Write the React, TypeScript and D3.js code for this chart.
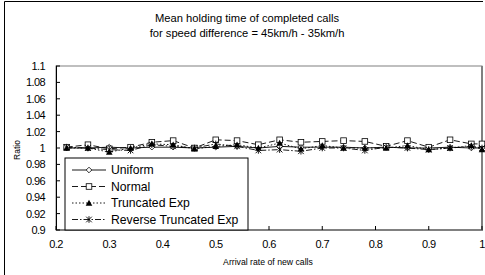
import React from "react";
import * as d3 from "d3";

const xValues = [0.22, 0.26, 0.3, 0.34, 0.38, 0.42, 0.46, 0.5, 0.54, 0.58, 0.62, 0.66, 0.7, 0.74, 0.78, 0.82, 0.86, 0.9, 0.94, 0.98, 1.0];
const uniform = [1.0, 1.0, 1.001, 1.0, 1.001, 1.001, 1.0, 1.001, 1.002, 1.0, 1.002, 1.001, 1.001, 1.001, 1.0, 1.001, 1.0, 1.0, 1.001, 1.0, 1.0];
const normal = [1.001, 1.004, 0.999, 1.001, 1.007, 1.009, 1.0, 1.01, 1.009, 1.004, 1.01, 1.007, 1.008, 1.009, 1.008, 1.002, 1.009, 1.001, 1.01, 1.005, 1.005];
const truncExp = [1.0, 1.0, 0.995, 1.0, 1.005, 1.004, 0.999, 1.002, 1.004, 1.0, 1.006, 0.999, 1.003, 1.0, 1.0, 1.0, 1.003, 0.998, 1.0, 1.003, 0.998];
const reverseExp = [1.001, 1.0, 0.998, 0.997, 1.004, 1.002, 1.0, 1.005, 1.002, 0.997, 0.998, 0.996, 1.0, 1.0, 0.997, 1.001, 1.0, 0.998, 1.0, 1.002, 1.0];
const yTicks = [0.9, 0.92, 0.94, 0.96, 0.98, 1, 1.02, 1.04, 1.06, 1.08, 1.1];
const xTicks = [0.2, 0.3, 0.4, 0.5, 0.6, 0.7, 0.8, 0.9, 1];
const seriesNames = ["Uniform", "Normal", "Truncated Exp", "Reverse Truncated Exp"];
const titleLines = ["Mean holding time of completed calls", "for speed difference = 45km/h - 35km/h"];

const W = 485, H = 275;
const L = 56, R = 482, T = 66, B = 230;
const font = "'Liberation Sans', Arial, sans-serif";

const dashes = [undefined, "6,3", "1.5,2", "6,2,1.5,2"];

function Marker({ kind, x, y }: { kind: number; x: number; y: number }) {
  if (kind === 0) {
    const s = 2.8;
    return <path d={`M${x},${y - s}L${x + s},${y}L${x},${y + s}L${x - s},${y}Z`} fill="white" stroke="#000" strokeWidth={0.8} />;
  }
  if (kind === 1) {
    return <rect x={x - 2.8} y={y - 2.8} width={5.6} height={5.6} fill="white" stroke="#000" strokeWidth={0.8} />;
  }
  if (kind === 2) {
    const s = 3.3;
    return <path d={`M${x},${y - s}L${x + s},${y + s * 0.8}L${x - s},${y + s * 0.8}Z`} fill="#000" />;
  }
  const s = 2.8;
  return (
    <path
      d={`M${x - s},${y - s}L${x + s},${y + s}M${x - s},${y + s}L${x + s},${y - s}M${x},${y - s - 0.5}L${x},${y + s + 0.5}`}
      stroke="#000"
      strokeWidth={0.9}
      fill="none"
    />
  );
}

export default function App() {
  const x = d3.scaleLinear().domain([0.2, 1]).range([L, R]);
  const y = d3.scaleLinear().domain([0.9, 1.1]).range([B, T]);
  const allSeries = [uniform, normal, truncExp, reverseExp];
  const line = d3
    .line<number>()
    .x((_, i) => x(xValues[i]))
    .y((d) => y(d));

  const legendX = 65, legendY = 158;
  const legendRowY = [170, 186.5, 203, 219.5];

  return (
    <svg width={W} height={H} style={{ position: "absolute", left: 0, top: 0, background: "white" }}>
      <rect x={0} y={0} width={W} height={H} fill="white" />
      {/* outer frame */}
      <line x1={4.5} y1={1.5} x2={483} y2={1.5} stroke="#000" strokeWidth={1} />
      <line x1={4.5} y1={1.5} x2={4.5} y2={H} stroke="#000" strokeWidth={1} />

      {/* title */}
      {titleLines.map((t, i) => (
        <text key={i} x={247} y={22 + i * 15} textAnchor="middle" fontFamily={font} fontSize={11.2} fill="#000">
          {t}
        </text>
      ))}

      {/* plot border */}
      <rect x={L} y={T} width={R - L} height={B - T} fill="white" stroke="#808080" strokeWidth={1} />
      <line x1={R} y1={T} x2={R} y2={B + 1} stroke="#808080" strokeWidth={2} />
      <line x1={L} y1={B} x2={R + 1} y2={B} stroke="#808080" strokeWidth={2} />
      <line x1={L + 0.5} y1={T} x2={L + 0.5} y2={B} stroke="#000" strokeWidth={1} />

      {/* y ticks */}
      {yTicks.map((t) => (
        <g key={t}>
          <line x1={L} x2={L + 4} y1={y(t)} y2={y(t)} stroke="#000" strokeWidth={1} />
          <text x={45} y={y(t) + 4} textAnchor="end" fontFamily={font} fontSize={11} fill="#000" letterSpacing={-0.6}>
            {d3.format("")(+t.toFixed(2))}
          </text>
        </g>
      ))}
      {/* x ticks */}
      {xTicks.map((t) => (
        <g key={t}>
          <line x1={x(t)} x2={x(t)} y1={B} y2={B - 4} stroke="#000" strokeWidth={1} />
          <text x={x(t)} y={248} textAnchor="middle" fontFamily={font} fontSize={11} fill="#000" letterSpacing={-0.6}>
            {String(t)}
          </text>
        </g>
      ))}

      <text x={268} y={265} textAnchor="middle" fontFamily={font} fontSize={8.7} fill="#000">
        Arrival rate of new calls
      </text>
      <text transform={`translate(20,150) rotate(-90)`} textAnchor="middle" fontFamily={font} fontSize={8.5} fill="#000">
        Ratio
      </text>

      {/* series */}
      {allSeries.map((s, k) => (
        <g key={k}>
          <path d={line(s) || ""} fill="none" stroke="#000" strokeWidth={0.9} strokeDasharray={dashes[k]} />
          {s.map((v, i) => (
            <Marker key={i} kind={k} x={x(xValues[i])} y={y(v)} />
          ))}
        </g>
      ))}

      {/* legend */}
      <rect x={legendX} y={legendY} width={248 - legendX} height={B - legendY} fill="white" stroke="#000" strokeWidth={1} />
      {seriesNames.map((n, k) => (
        <g key={n}>
          <line x1={72} x2={106} y1={legendRowY[k]} y2={legendRowY[k]} stroke="#000" strokeWidth={0.9} strokeDasharray={dashes[k]} />
          <Marker kind={k} x={89} y={legendRowY[k]} />
          <text x={111} y={legendRowY[k] + 4} fontFamily={font} fontSize={12.2} fill="#000">
            {n}
          </text>
        </g>
      ))}
    </svg>
  );
}
